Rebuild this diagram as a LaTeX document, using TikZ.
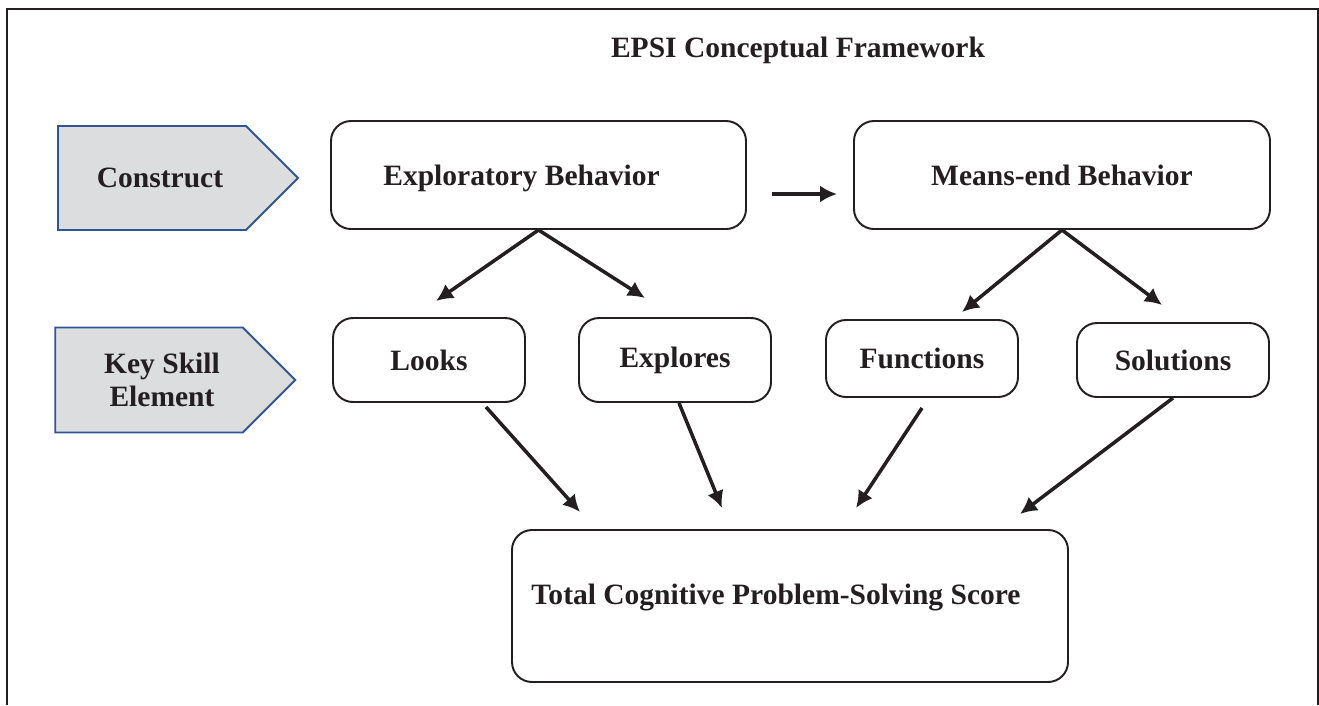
\documentclass[tikz,border=0pt]{standalone}
\usepackage{fontspec}
\setmainfont{Liberation Serif}
\usepackage{tikz}
\usetikzlibrary{arrows.meta,positioning,shapes.symbols}
\definecolor{EdgeBlue}{HTML}{2F5597}
\definecolor{SoftGray}{HTML}{DCDDDF}
\definecolor{Ink}{HTML}{231F20}

\begin{document}
\begin{tikzpicture}[>={Latex[length=0.34cm,width=0.34cm]},
  every node/.style={font=\fontsize{16.8}{19}\selectfont\bfseries, text=Ink},
  box/.style={draw=Ink, line width=1.1pt, rounded corners=0.4cm},
  tag/.style={signal, signal to=east, signal from=nowhere, signal pointer angle=90,
    draw=EdgeBlue, line width=1.1pt, fill=SoftGray, minimum width=4.8cm,
    minimum height=2.08cm},
  arr/.style={->, draw=Ink, line width=2pt}]
  \useasboundingbox (0,0) rectangle (26.38,-14.1);
  \draw[Ink, line width=1.1pt] (0.14,-14.1) -- (0.14,-0.18) -- (26.36,-0.18) -- (26.36,-14.1);
  \node (title) at (15.96,-1.0) {EPSI Conceptual Framework};
  \node[tag, label={[xshift=0.16cm]center:Construct}] (constr) at (3.04,-3.56) {};
  \node[tag, minimum height=2.1cm,
    label={[xshift=0.26cm,align=center]center:Key Skill\\Element}] (keyskill) at (2.98,-7.6) {};
  \node[box, minimum width=8.3cm, minimum height=2.16cm,
    label={[xshift=-0.34cm,yshift=-0.06cm]center:Exploratory Behavior}] (expl) at (10.77,-3.5) {};
  \node[box, minimum width=8.32cm, minimum height=2.16cm] (means) at (21.24,-3.5) {Means-end Behavior};
  \node[box, minimum width=3.84cm, minimum height=1.68cm] (looks) at (8.58,-7.2) {Looks};
  \node[box, minimum width=3.84cm, minimum height=1.68cm] (explr) at (13.5,-7.2) {Explores};
  \node[box, minimum width=3.84cm, minimum height=1.54cm] (funcs) at (18.44,-7.17) {Functions};
  \node[box, minimum width=3.84cm, minimum height=1.48cm] (sols) at (23.46,-7.2) {Solutions};
  \node[box, minimum width=11.12cm, minimum height=3.04cm,
    label={[xshift=-0.28cm,yshift=0.16cm]center:Total Cognitive Problem-Solving Score}] (total) at (15.8,-12.12) {};
  % arrow ends
  \coordinate (e1) at (8.72,-6.02);
  \coordinate (e2) at (12.9,-5.96);
  \coordinate (m1) at (19.24,-6.24);
  \coordinate (m2) at (23.24,-6.1);
  \coordinate (t1) at (11.6,-10.24);
  \coordinate (t2) at (14.44,-10.16);
  \coordinate (t3) at (17.12,-10.16);
  \coordinate (t4) at (20.4,-10.28);
  \draw[arr] ([xshift=0.5cm,yshift=-0.38cm]expl.east) -- ([xshift=-0.32cm,yshift=-0.38cm]means.west);
  \foreach \dst in {e1,e2} {
    \draw[arr] (expl.south) -- (\dst);
  }
  \foreach \dst in {m1,m2} {
    \draw[arr] (means.south) -- (\dst);
  }
  \draw[arr] ([xshift=1.14cm,yshift=-0.08cm]looks.south) -- (t1);
  \draw[arr] ([xshift=0.08cm]explr.south) -- (t2);
  \draw[arr] ([yshift=-0.2cm]funcs.south) -- (t3);
  \draw[arr] (sols.south) -- (t4);
\end{tikzpicture}
\end{document}
